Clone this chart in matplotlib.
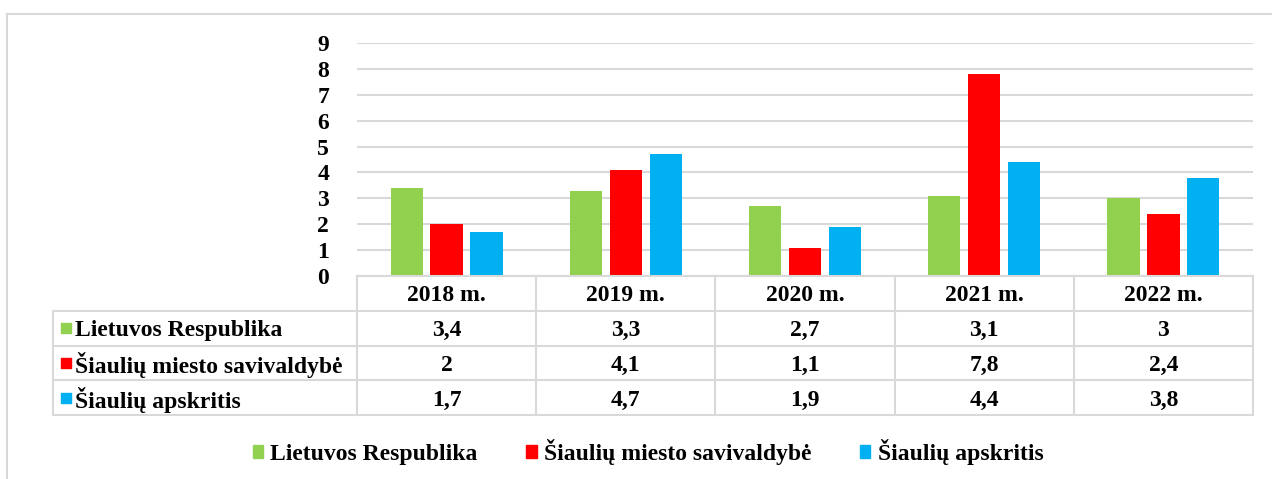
import numpy as np
import matplotlib.pyplot as plt
from matplotlib.patches import Patch
from matplotlib.lines import Line2D

# duomenys
years = ['2018 m.', '2019 m.', '2020 m.', '2021 m.', '2022 m.']
series_names = ['Lietuvos Respublika', 'Šiaulių miesto savivaldybė', 'Šiaulių apskritis']
lr = [3.4, 3.3, 2.7, 3.1, 3.0]
smsav = [2.0, 4.1, 1.1, 7.8, 2.4]
sapskr = [1.7, 4.7, 1.9, 4.4, 3.8]
values = [lr, smsav, sapskr]
colors = ['#92D050', '#FF0000', '#00B0F0']
grid_c = '#D9D9D9'

plt.rcParams['font.family'] = ['Liberation Serif', 'DejaVu Serif']
plt.rcParams['font.weight'] = 'bold'
FS = 17

W, H = 1272, 479
fig = plt.figure(figsize=(W / 100, H / 100), dpi=100)

def box(x0, y0, x1, y1):
    # pikseliai -> figuros koordinates
    return [x0 / W, 1 - y1 / H, (x1 - x0) / W, (y1 - y0) / H]

# išorinis rėmelis
fig.add_artist(Line2D([7 / W, 7 / W], [0, 1 - 14 / H], color=grid_c, lw=1.5))
fig.add_artist(Line2D([7 / W, 1], [1 - 14 / H, 1 - 14 / H], color=grid_c, lw=1.5))

# stulpelinė diagrama
px_l, px_r = 357, 1253
ax = fig.add_axes(box(px_l, 43, px_r, 276))
x = np.arange(len(years))
step, bw = 0.223, 0.18
for k in range(3):
    ax.bar(x + (k - 1) * step, values[k], width=bw, color=colors[k], zorder=3)
ax.set_xlim(-0.5, len(years) - 0.5)
ax.set_ylim(0, 9)
ax.set_yticks(range(10))
ax.set_yticklabels([str(i) for i in range(10)], fontsize=FS, fontweight='bold')
ax.set_xticks([])
ax.tick_params(axis='y', length=0, pad=20)
ax.grid(axis='y', color=grid_c, lw=1.5, zorder=0)
for s in ax.spines.values():
    s.set_visible(False)

# duomenų lentelė
tb_l = 53
col_w = (px_r - px_l) / len(years)
lab_w = (px_l - tb_l) / col_w
tax = fig.add_axes(box(tb_l, 276, px_r, 415))
tax.set_xlim(-0.5 - lab_w, len(years) - 0.5)
tax.set_ylim(4, 0)
tax.axis('off')
# linijos
for r in range(5):
    x0 = -0.5 if r == 0 else -0.5 - lab_w
    tax.plot([x0, len(years) - 0.5], [r, r], color=grid_c, lw=1.5, clip_on=False)
tax.plot([-0.5 - lab_w] * 2, [1, 4], color=grid_c, lw=1.5, clip_on=False)
for c in range(len(years) + 1):
    tax.plot([c - 0.5] * 2, [0, 4], color=grid_c, lw=1.5, clip_on=False)
for c, yr in enumerate(years):
    tax.text(c, 0.5, yr, ha='center', va='center_baseline', fontsize=FS, fontweight='bold')
for r in range(3):
    tax.scatter([-0.5 - lab_w + 0.07], [r + 1.5], marker='s', s=56, color=colors[r], clip_on=False)
    tax.text(-0.5 - lab_w + 0.12, r + 1.5, series_names[r], ha='left', va='center_baseline',
             fontsize=FS, fontweight='bold')
    for c in range(len(years)):
        tax.text(c, r + 1.5, f'{values[r][c]:g}'.replace('.', ','), ha='center',
                 va='center_baseline', fontsize=FS, fontweight='bold')

# legenda
handles = [Patch(color=colors[k], label=series_names[k]) for k in range(3)]
fig.legend(handles=handles, loc='center', bbox_to_anchor=(648 / W, 1 - 452 / H), ncol=3,
           frameon=False, handlelength=0.45, handleheight=0.45, handletextpad=0.3,
           columnspacing=2.05, prop={'size': FS, 'weight': 'bold'})

fig.savefig('out.png', dpi=100)
